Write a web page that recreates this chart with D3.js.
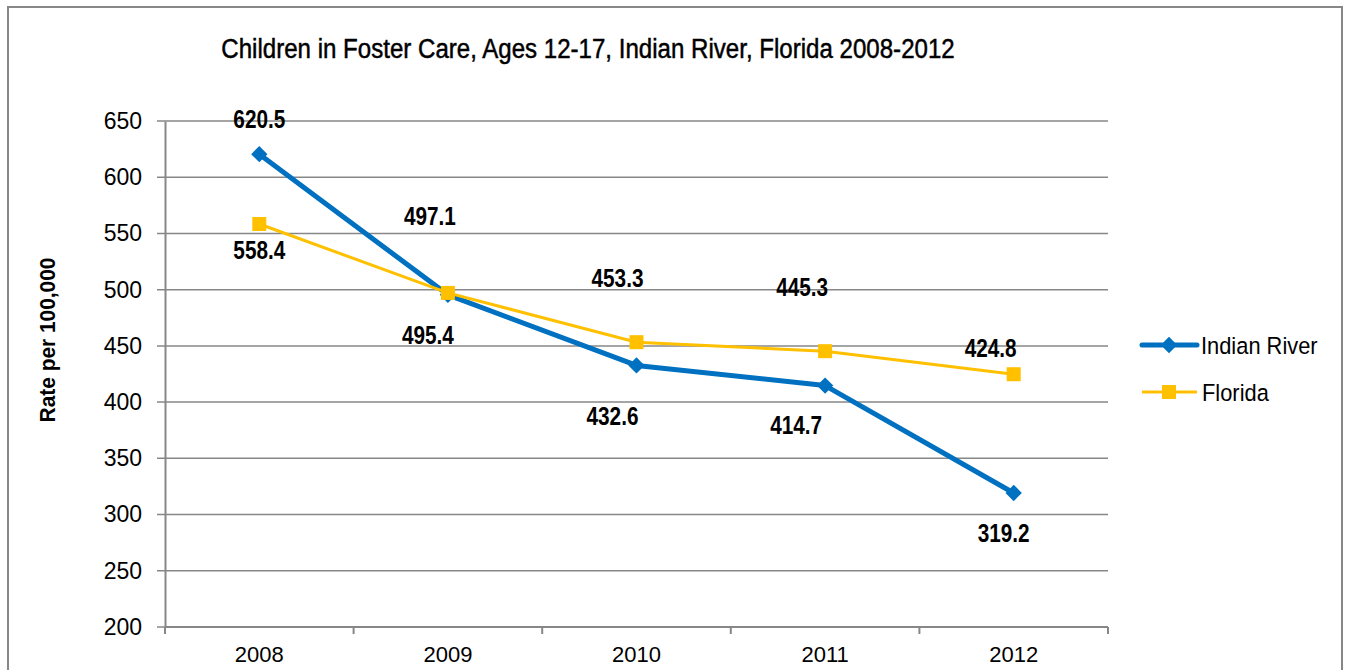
<!DOCTYPE html>
<html>
<head>
<meta charset="utf-8">
<script src="https://cdn.jsdelivr.net/npm/d3@7"></script>
<style>
  body { margin: 0; background: #fff; }
  text { font-family: "Liberation Sans", Arial, sans-serif; fill: #000; }
</style>
</head>
<body>
<div id="chart-area"></div>
<script>
// data
var years = ["2008", "2009", "2010", "2011", "2012"];
var indianRiver = [620.5, 495.4, 432.6, 414.7, 319.2];
var florida = [558.4, 497.1, 453.3, 445.3, 424.8];
var yTicks = [200, 250, 300, 350, 400, 450, 500, 550, 600, 650];

// label offsets (dx, dy) relative to the point, like the Excel layout
var irLabelOffsets = [[0, -35], [-20, 40], [-24, 51], [-29, 39], [-10, 40]];
var flLabelOffsets = [[0, 26], [-18, -77], [-19, -64], [-23, -64], [-23, -26]];

var width = 1346, height = 670;

var svg = d3.select("#chart-area").append("svg")
    .attr("width", width)
    .attr("height", height);

// narrow-looking text: Liberation Sans squeezed horizontally
function addText(parent, x, y, str, o) {
    return parent.append("text")
        .attr("transform", "translate(" + x + "," + y + ")" + (o.rotate ? " rotate(" + o.rotate + ")" : "") + " scale(" + (o.sx || 1) + ",1)")
        .attr("text-anchor", o.anchor || "start")
        .attr("dy", o.dy || 0)
        .style("font-size", o.size + "px")
        .style("font-weight", o.weight || "normal")
        .text(str);
}

// chart border
svg.append("rect")
    .attr("x", 8).attr("y", 7)
    .attr("width", 1334).attr("height", 700)
    .attr("fill", "none")
    .attr("stroke", "#878787")
    .attr("stroke-width", 2);

var plot = {left: 165, right: 1108, top: 121, bottom: 627};

var x = d3.scaleBand().domain(years).range([plot.left, plot.right]);
var y = d3.scaleLinear().domain([200, 650]).range([plot.bottom, plot.top]);

// gridlines
svg.append("g").selectAll("line")
    .data(yTicks)
    .enter().append("line")
    .attr("x1", plot.left - 8)
    .attr("x2", plot.right)
    .attr("y1", function (d) { return y(d); })
    .attr("y2", function (d) { return y(d); })
    .attr("stroke", "#878787")
    .attr("stroke-width", 1.5);

// y axis
var yAxis = d3.axisLeft(y).tickValues(yTicks).tickSize(0).tickPadding(23);
var gy = svg.append("g").attr("transform", "translate(" + plot.left + ",0)").call(yAxis);
gy.select(".domain").attr("stroke", "#878787").attr("stroke-width", 2);
gy.selectAll("text").style("font-size", "23px").attr("fill", "#000");

// x axis line and separators
svg.append("line")
    .attr("x1", plot.left).attr("x2", plot.right)
    .attr("y1", plot.bottom).attr("y2", plot.bottom)
    .attr("stroke", "#878787").attr("stroke-width", 2);
var bounds = years.map(function (d) { return x(d); }).concat([plot.right]);
svg.append("g").selectAll("line")
    .data(bounds)
    .enter().append("line")
    .attr("x1", function (d) { return d; })
    .attr("x2", function (d) { return d; })
    .attr("y1", plot.bottom)
    .attr("y2", plot.bottom + 7)
    .attr("stroke", "#878787")
    .attr("stroke-width", 2);
years.forEach(function (d) {
    addText(svg, x(d) + x.bandwidth() / 2, 662, d, {size: 22, anchor: "middle"});
});

// title
addText(svg, 588, 58, "Children in Foster Care, Ages 12-17, Indian River, Florida 2008-2012",
    {size: 28, sx: 0.86, anchor: "middle"})
    .style("stroke", "#000").style("stroke-width", 0.5);

// y axis title
addText(svg, 55, 340, "Rate per 100,000", {size: 22, sx: 0.95, weight: "bold", anchor: "middle", rotate: -90});

function px(i) { return x(years[i]) + x.bandwidth() / 2; }

var line = d3.line()
    .x(function (d, i) { return px(i); })
    .y(function (d) { return y(d); });

// Indian River
svg.append("path")
    .datum(indianRiver)
    .attr("d", line)
    .attr("fill", "none")
    .attr("stroke", "#0070C0")
    .attr("stroke-width", 5)
    .attr("stroke-linejoin", "round");
svg.append("g").selectAll("path")
    .data(indianRiver)
    .enter().append("path")
    .attr("d", d3.symbol().type(d3.symbolDiamond2).size(170))
    .attr("transform", function (d, i) { return "translate(" + px(i) + "," + y(d) + ")"; })
    .attr("fill", "#0070C0");

// Florida
svg.append("path")
    .datum(florida)
    .attr("d", line)
    .attr("fill", "none")
    .attr("stroke", "#FFC000")
    .attr("stroke-width", 3);
svg.append("g").selectAll("rect")
    .data(florida)
    .enter().append("rect")
    .attr("x", function (d, i) { return px(i) - 7; })
    .attr("y", function (d) { return y(d) - 7; })
    .attr("width", 14).attr("height", 14)
    .attr("fill", "#FFC000");

// data labels
function addLabels(values, offsets) {
    var g = svg.append("g");
    values.forEach(function (d, i) {
        addText(g, px(i) + offsets[i][0], y(d) + offsets[i][1], d.toFixed(1),
            {size: 25, sx: 0.83, weight: "bold", anchor: "middle", dy: "0.36em"});
    });
}
addLabels(indianRiver, irLabelOffsets);
addLabels(florida, flLabelOffsets);

// legend
var legend = svg.append("g");
legend.append("line")
    .attr("x1", 1142).attr("x2", 1197).attr("y1", 345).attr("y2", 345)
    .attr("stroke", "#0070C0").attr("stroke-width", 5).attr("stroke-linecap", "round");
legend.append("path")
    .attr("d", d3.symbol().type(d3.symbolDiamond2).size(170))
    .attr("transform", "translate(1169,345)")
    .attr("fill", "#0070C0");
addText(legend, 1201, 346, "Indian River", {size: 23.5, sx: 0.93, dy: "0.36em"});
legend.append("line")
    .attr("x1", 1142).attr("x2", 1197).attr("y1", 392).attr("y2", 392)
    .attr("stroke", "#FFC000").attr("stroke-width", 3);
legend.append("rect")
    .attr("x", 1162).attr("y", 385).attr("width", 14).attr("height", 14)
    .attr("fill", "#FFC000");
addText(legend, 1202, 393, "Florida", {size: 23.5, sx: 0.93, dy: "0.36em"});
</script>
</body>
</html>
